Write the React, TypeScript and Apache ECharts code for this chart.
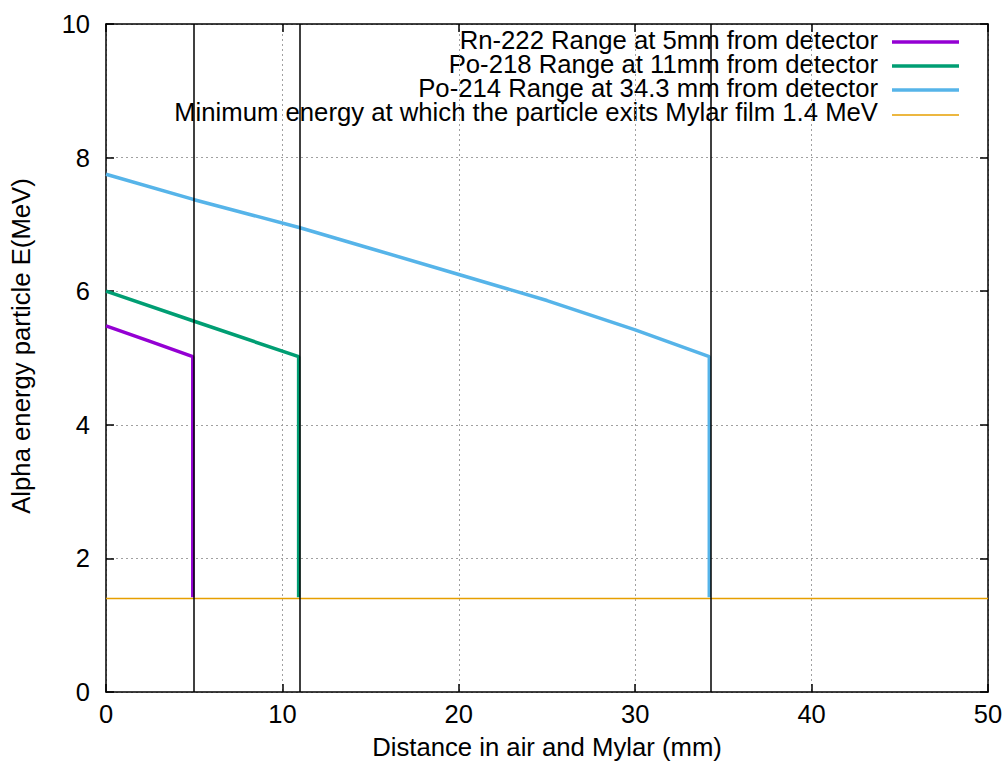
import React, { useEffect, useRef } from "react";
import * as echarts from "echarts";

const rnX = [0, 2.5, 4.92, 4.92];
const rnE = [5.48, 5.25, 5.02, 1.42];
const po218X = [0, 5, 10.92, 10.92];
const po218E = [6.0, 5.55, 5.02, 1.42];
const po214X = [0, 5, 11, 15, 20, 25, 30, 34.2, 34.2];
const po214E = [7.75, 7.37, 6.95, 6.64, 6.25, 5.86, 5.42, 5.02, 1.42];
const minX = [0, 50];
const minE = [1.4, 1.4];
const detectorLines = [5, 11, 34.3];
const legendLabels = [
  "Rn-222 Range at 5mm from detector",
  "Po-218 Range at 11mm from detector",
  "Po-214 Range at 34.3 mm from detector",
  "Minimum energy at which the particle exits Mylar film 1.4 MeV",
];
const colors = ["#9400d3", "#009e73", "#56b4e9", "#e69f00"];
const xTitle = "Distance in air and Mylar (mm)";
const yTitle = "Alpha energy particle E(MeV)";

const zip = (xs: number[], ys: number[]) => xs.map((x, i) => [x, ys[i]]);

const FONT = "'Liberation Sans', Arial, sans-serif";
const FS = 25.7;
const TFS = 25.5;

export default function App() {
  const ref = useRef<HTMLDivElement>(null);
  useEffect(() => {
    if (!ref.current) return;
    const chart = echarts.init(ref.current, undefined, { renderer: "svg" });
    const axisCommon = {
      type: "value" as const,
      axisLine: { show: true, onZero: false, lineStyle: { color: "#000", width: 1.5 } },
      axisTick: { show: true, inside: true, length: 8, lineStyle: { color: "#000", width: 1.5 } },
    };
    const splitLine = {
      show: true,
      lineStyle: { color: "#a0a0a0", width: 1, type: [2, 3] as any },
    };
    const legendRows = [40, 64, 88, 112];
    const legendLineYs = [42, 66, 90, 115];
    const graphic: any[] = [];
    legendLabels.forEach((t, i) => {
      graphic.push({
        type: "text",
        x: 878,
        y: legendRows[i],
        style: {
          text: t,
          fill: "#000",
          fontSize: FS,
          fontFamily: FONT,
          lineHeight: 22,
          textAlign: "right",
          textVerticalAlign: "middle",
        },
      });
      graphic.push({
        type: "line",
        shape: { x1: 892, y1: legendLineYs[i], x2: 959, y2: legendLineYs[i] },
        style: { stroke: colors[i], lineWidth: i === 3 ? 1.5 : 3.5 },
      });
    });
    graphic.push({
      type: "text",
      x: 21,
      y: 346,
      rotation: Math.PI / 2,
      style: {
        text: yTitle,
        fill: "#000",
        fontSize: FS,
        fontFamily: FONT,
        textAlign: "center",
        textVerticalAlign: "middle",
      },
    });
    chart.setOption({
      animation: false,
      textStyle: { fontFamily: FONT },
      grid: { left: 106, right: 20, top: 24, bottom: 72, containLabel: false },
      xAxis: [
        {
          ...axisCommon,
          position: "bottom",
          min: 0,
          max: 50,
          interval: 10,
          name: xTitle,
          nameLocation: "middle",
          nameGap: 42,
          nameTextStyle: { color: "#000", fontSize: FS, fontFamily: FONT },
          axisLabel: { color: "#000", fontSize: TFS, fontFamily: FONT, margin: 9 },
          splitLine,
        },
        {
          ...axisCommon,
          position: "top",
          min: 0,
          max: 50,
          interval: 10,
          axisLabel: { show: false },
          splitLine: { show: false },
        },
      ],
      yAxis: [
        {
          ...axisCommon,
          position: "left",
          min: 0,
          max: 10,
          interval: 2,
          axisLabel: { color: "#000", fontSize: TFS, fontFamily: FONT, margin: 16 },
          splitLine,
        },
        {
          ...axisCommon,
          position: "right",
          min: 0,
          max: 10,
          interval: 2,
          axisLabel: { show: false },
          splitLine: { show: false },
        },
      ],
      series: [
        {
          type: "line",
          data: zip(minX, minE),
          showSymbol: false,
          lineStyle: { color: colors[3], width: 1.5 },
          z: 2,
        },
        {
          type: "line",
          data: zip(rnX, rnE),
          showSymbol: false,
          lineStyle: { color: colors[0], width: 3.5 },
          z: 3,
        },
        {
          type: "line",
          data: zip(po218X, po218E),
          showSymbol: false,
          lineStyle: { color: colors[1], width: 3.5 },
          z: 3,
        },
        {
          type: "line",
          data: zip(po214X, po214E),
          showSymbol: false,
          lineStyle: { color: colors[2], width: 3.5 },
          z: 3,
        },
        {
          type: "line",
          data: [],
          z: 5,
          markLine: {
            silent: true,
            symbol: "none",
            label: { show: false },
            lineStyle: { color: "#000", width: 1.5, type: "solid" },
            data: detectorLines.map((x) => ({ xAxis: x })),
          },
        },
      ],
      graphic,
    });
    return () => chart.dispose();
  }, []);
  return (
    <div
      ref={ref}
      style={{ position: "absolute", left: 0, top: 0, width: 1008, height: 765, background: "#fff" }}
    />
  );
}
